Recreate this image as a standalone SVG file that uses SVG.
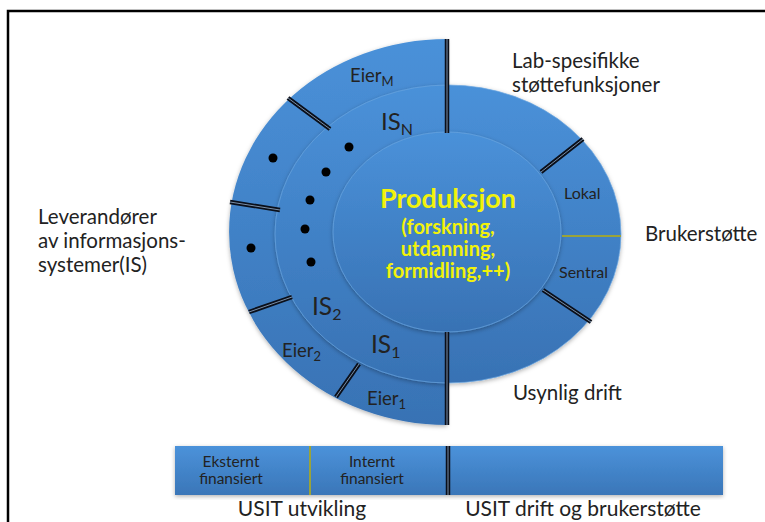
<svg xmlns="http://www.w3.org/2000/svg" width="765" height="522" viewBox="0 0 765 522">
  <defs>
    <linearGradient id="blue" x1="0" y1="0" x2="0" y2="1">
      <stop offset="0" stop-color="#4a91d9"/>
      <stop offset="1" stop-color="#3872b4"/>
    </linearGradient>
    <linearGradient id="barblue" x1="0" y1="0" x2="0" y2="1">
      <stop offset="0" stop-color="#4b92da"/>
      <stop offset="1" stop-color="#3a76b8"/>
    </linearGradient>
    <filter id="sh" x="-10%" y="-10%" width="120%" height="120%">
      <feDropShadow dx="0" dy="1.5" stdDeviation="2" flood-color="#000" flood-opacity="0.3"/>
    </filter>
  </defs>
  <style>
    .t { font-family: Lato, "Open Sans", "Liberation Sans", sans-serif; fill: #222; }
    .y { font-family: Lato, "Open Sans", "Liberation Sans", sans-serif; fill: #f2f20a; font-weight: bold; text-anchor: middle; }
    .dk { stroke: #0a0f1a; stroke-width: 4.5; fill: none; }
    .lt { stroke: #7a8fa8; stroke-width: 1; fill: none; }
    .ring { stroke: #6aa5e0; stroke-width: 1; stroke-opacity: 0.7; }
    .dot { fill: #000; }
  </style>

  <rect x="8" y="11" width="800" height="560" fill="none" stroke="#000" stroke-width="2.5"/>

  <g id="eier-ring" filter="url(#sh)">
    <path d="M447,39 A218,193 0 0 0 447,425 Z" fill="url(#blue)"/>
  </g>
  <g id="is-ring" filter="url(#sh)">
    <ellipse cx="448" cy="234" rx="173" ry="149" fill="url(#blue)" class="ring"/>
  </g>
  <g id="produksjon" filter="url(#sh)">
    <ellipse cx="447" cy="232" rx="114" ry="100" fill="url(#blue)" class="ring"/>
  </g>

  <g id="connectors">
    <g class="dk">
      <line x1="447" y1="39" x2="447" y2="133"/>
      <line x1="447" y1="332" x2="447" y2="425"/>
      <line x1="288" y1="98" x2="330" y2="129"/>
      <line x1="230" y1="202" x2="280" y2="210"/>
      <line x1="249" y1="312" x2="292" y2="297"/>
      <line x1="336" y1="397" x2="359" y2="364"/>
      <line x1="541" y1="172" x2="583" y2="139"/>
      <line x1="543" y1="290" x2="591" y2="322"/>
    </g>
    <g class="lt">
      <line x1="447" y1="39" x2="447" y2="133"/>
      <line x1="447" y1="332" x2="447" y2="425"/>
      <line x1="288" y1="98" x2="330" y2="129"/>
      <line x1="230" y1="202" x2="280" y2="210"/>
      <line x1="249" y1="312" x2="292" y2="297"/>
      <line x1="336" y1="397" x2="359" y2="364"/>
      <line x1="541" y1="172" x2="583" y2="139"/>
      <line x1="543" y1="290" x2="591" y2="322"/>
    </g>
    <line x1="562" y1="236" x2="621" y2="236" stroke="#9aa33a" stroke-width="2"/>
  </g>

  <g id="dots">
    <circle class="dot" cx="273" cy="158" r="4.5"/>
    <circle class="dot" cx="326" cy="172" r="4.5"/>
    <circle class="dot" cx="349" cy="147" r="4.5"/>
    <circle class="dot" cx="310" cy="200" r="4.5"/>
    <circle class="dot" cx="305" cy="229" r="4.5"/>
    <circle class="dot" cx="311" cy="262" r="4.5"/>
    <circle class="dot" cx="251" cy="248" r="4.5"/>
  </g>

  <g id="ring-labels">
    <text class="t" x="350" y="82" font-size="18.5">Eier<tspan font-size="13" dy="4">M</tspan></text>
    <text class="t" x="381" y="130" font-size="24">IS<tspan font-size="16" dy="5">N</tspan></text>
    <text class="t" x="312" y="315" font-size="24.5">IS<tspan font-size="16" dy="5">2</tspan></text>
    <text class="t" x="371" y="353" font-size="24.5">IS<tspan font-size="16" dy="5">1</tspan></text>
    <text class="t" x="282" y="357" font-size="18.5">Eier<tspan font-size="13" dy="4">2</tspan></text>
    <text class="t" x="367" y="405" font-size="18.5">Eier<tspan font-size="13" dy="4">1</tspan></text>
    <text class="t" x="564" y="199" font-size="16">Lokal</text>
    <text class="t" x="559" y="278" font-size="16">Sentral</text>
  </g>

  <g id="produksjon-text">
    <text class="y" x="448" y="208" font-size="27">Produksjon</text>
    <text class="y" x="448" y="234" font-size="20">(forskning,</text>
    <text class="y" x="448" y="256" font-size="20">utdanning,</text>
    <text class="y" x="448" y="278" font-size="20">formidling,++)</text>
  </g>

  <g id="outer-labels">
    <text class="t" x="512" y="68" font-size="20.5">Lab-spesifikke</text>
    <text class="t" x="512" y="92" font-size="20.5">støttefunksjoner</text>
    <text class="t" x="645" y="241" font-size="20.5">Brukerstøtte</text>
    <text class="t" x="513" y="400" font-size="20.5">Usynlig drift</text>
    <text class="t" x="38" y="224" font-size="20.5">Leverandører</text>
    <text class="t" x="38" y="248" font-size="20.5">av informasjons-</text>
    <text class="t" x="38" y="272" font-size="20.5">systemer(IS)</text>
  </g>

  <g id="usit-bar">
    <rect x="175" y="446" width="548" height="49" fill="url(#barblue)" filter="url(#sh)"/>
    <line x1="310" y1="446" x2="310" y2="495" stroke="#9aa33a" stroke-width="2"/>
    <line x1="448" y1="446" x2="448" y2="495" class="dk"/>
    <line x1="448" y1="446" x2="448" y2="495" class="lt"/>
    <text class="t" x="231" y="467" font-size="15.5" text-anchor="middle">Eksternt</text>
    <text class="t" x="231" y="484" font-size="15.5" text-anchor="middle">finansiert</text>
    <text class="t" x="372" y="467" font-size="15.5" text-anchor="middle">Internt</text>
    <text class="t" x="372" y="484" font-size="15.5" text-anchor="middle">finansiert</text>
    <text class="t" x="302" y="516" font-size="21" text-anchor="middle">USIT utvikling</text>
    <text class="t" x="583" y="516" font-size="21" text-anchor="middle">USIT drift og brukerstøtte</text>
  </g>
</svg>
